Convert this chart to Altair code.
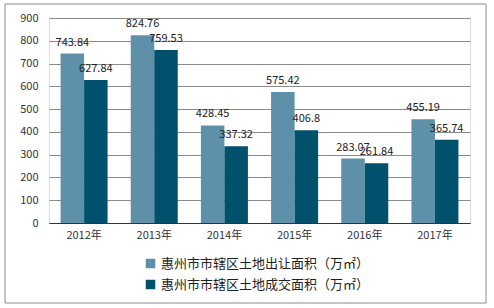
import altair as alt
import pandas as pd

years = ["2012年", "2013年", "2014年", "2015年", "2016年", "2017年"]
series_names = ["惠州市市辖区土地出让面积（万㎡）", "惠州市市辖区土地成交面积（万㎡）"]
transfer_area = [743.84, 824.76, 428.45, 575.42, 283.07, 455.19]
deal_area = [627.84, 759.53, 337.32, 406.8, 261.84, 365.74]
y_ticks = [0, 100, 200, 300, 400, 500, 600, 700, 800, 900]
colors = ["#5E91A9", "#02516C"]

rows = []
for i, y in enumerate(years):
    rows.append({"year": y, "series": series_names[0], "value": transfer_area[i],
                 "label": f"{transfer_area[i]:g}"})
    rows.append({"year": y, "series": series_names[1], "value": deal_area[i],
                 "label": f"{deal_area[i]:g}"})
df = pd.DataFrame(rows)

FONT = "Noto Sans CJK SC"
xscale = alt.Scale(paddingInner=0.33, paddingOuter=0.165)

x = alt.X("year:N", sort=years, title=None, scale=xscale,
          axis=alt.Axis(labelAngle=0, labelFontSize=11, labelColor="#333333",
                        labelPadding=6, ticks=False, domainColor="#333333",
                        domainWidth=1, labelFont=FONT, grid=False))
xoff = alt.XOffset("series:N", sort=series_names)
y = alt.Y("value:Q", title=None,
          scale=alt.Scale(domain=[0, 900], nice=False),
          axis=alt.Axis(values=y_ticks, labelOverlap=False,
                        labelFontSize=11, labelColor="#333333", labelPadding=11,
                        ticks=False, domain=False, gridColor="#8a8a8a", gridWidth=1,
                        labelFont=FONT))

bars = alt.Chart(df).mark_bar().encode(
    x=x,
    xOffset=xoff,
    y=y,
    color=alt.Color("series:N", sort=series_names,
                    scale=alt.Scale(domain=series_names, range=colors),
                    legend=alt.Legend(title=None, orient="none", legendX=95, legendY=239,
                                      direction="vertical", symbolType="square",
                                      symbolSize=90, labelFontSize=13, labelColor="#222222",
                                      rowPadding=7, labelFont=FONT, symbolStrokeWidth=0,
                                      labelLimit=0)),
)

text = alt.Chart(df).mark_text(baseline="alphabetic", dy=-8, fontSize=11,
                               color="#222222", font=FONT).encode(
    x=x,
    xOffset=xoff,
    y=y,
    text="label:N",
)

frame = alt.Chart(pd.DataFrame({"a": [0]})).mark_rect(
    fill=None, stroke="#8c8c8c", strokeWidth=1).encode(
    x=alt.value(-44), x2=alt.value(437), y=alt.value(-14), y2=alt.value(285))

chart = alt.layer(frame, bars, text).properties(
    width=421, height=205,
    autosize=alt.AutoSizeParams(type="none"),
    padding={"left": 49, "top": 18, "right": 24, "bottom": 85},
).configure_view(stroke=None).configure(background="white")

chart.save("out.html", embed_options={"renderer": "svg", "actions": False})
